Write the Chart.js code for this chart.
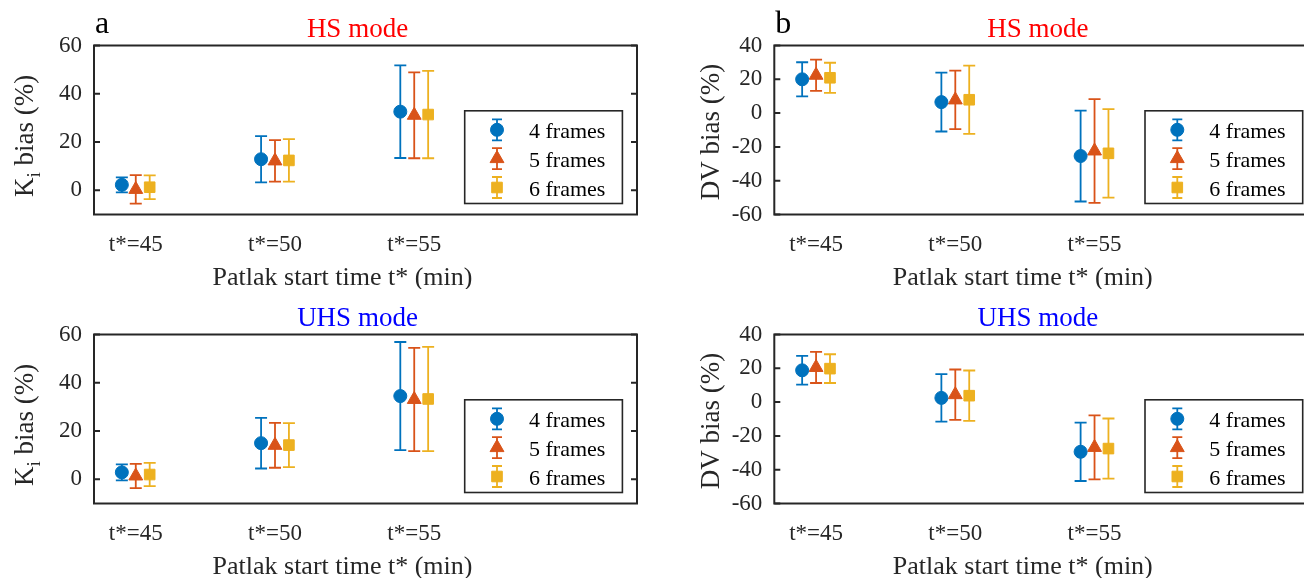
<!DOCTYPE html>
<html>
<head>
<meta charset="utf-8">
<script src="https://cdn.jsdelivr.net/npm/chart.js@4.4.0/dist/chart.umd.min.js"></script>
<style>
    html, body { margin: 0; padding: 0; background: #fff; }
    body { width: 1304px; height: 578px; overflow: hidden; position: relative; }
    .panel { position: absolute; }
    .panel canvas { display: block; }
</style>
</head>
<body>
<div class="panel" style="left:0;top:0"><canvas id="ki-hs" width="652" height="289"></canvas></div>
<div class="panel" style="left:652px;top:0"><canvas id="dv-hs" width="680" height="289"></canvas></div>
<div class="panel" style="left:0;top:289px"><canvas id="ki-uhs" width="652" height="289"></canvas></div>
<div class="panel" style="left:652px;top:289px"><canvas id="dv-uhs" width="680" height="289"></canvas></div>
<script>
const startTimes = ['t*=45', 't*=50', 't*=55'];
const frameCounts = ['4 frames', '5 frames', '6 frames'];
const kiTicks = [0, 20, 40, 60];
const dvTicks = [-60, -40, -20, 0, 20, 40];

// rows: 4 / 5 / 6 frames, columns: t* = 45 / 50 / 55
const kiHsMean = [[2.3, 12.9, 32.6], [0.4, 12.2, 31.1], [1.3, 12.4, 31.4]];
const kiHsErr  = [[3.1, 9.6, 19.2], [5.9, 8.6, 17.8], [4.9, 8.8, 18.1]];
const kiUhsMean = [[2.9, 15.0, 34.5], [1.4, 14.1, 33.1], [2.0, 14.2, 33.3]];
const kiUhsErr  = [[3.3, 10.5, 22.4], [5.0, 9.3, 21.4], [4.8, 9.1, 21.6]];
const dvHsMean = [[20.0, 6.5, -25.4], [22.4, 7.8, -22.4], [20.9, 7.9, -23.8]];
const dvHsErr  = [[10.1, 17.4, 26.9], [9.2, 17.3, 30.7], [8.9, 20.2, 26.2]];
const dvUhsMean = [[18.8, 2.5, -29.4], [20.5, 4.4, -26.8], [19.8, 3.8, -27.5]];
const dvUhsErr  = [[8.5, 14.0, 17.3], [9.2, 14.9, 18.9], [8.5, 14.9, 17.8]];

const FONT = '"Liberation Serif", "Times New Roman", serif';
const INK = '#262626';
const colors = ['#0072BD', '#D95319', '#EDB120'];
const markers = [
    { style: 'circle', r: 6.5 },
    { style: 'triangle', r: 8 },
    { style: 'rect', r: 7.5 }
];
const DODGE = 0.1;
const CAP = 6;

const errorBars = {
    id: 'errorBars',
    beforeDatasetsDraw(chart) {
        const { ctx } = chart;
        const y = chart.scales.y;
        chart.data.datasets.forEach((ds, di) => {
            const meta = chart.getDatasetMeta(di);
            ctx.save();
            ctx.strokeStyle = ds.borderColor;
            ctx.lineWidth = 1.8;
            meta.data.forEach((pt, i) => {
                const d = ds.data[i];
                const top = y.getPixelForValue(d.y + d.err);
                const bot = y.getPixelForValue(d.y - d.err);
                ctx.beginPath();
                ctx.moveTo(pt.x, top); ctx.lineTo(pt.x, bot);
                ctx.moveTo(pt.x - CAP, top); ctx.lineTo(pt.x + CAP, top);
                ctx.moveTo(pt.x - CAP, bot); ctx.lineTo(pt.x + CAP, bot);
                ctx.stroke();
            });
            ctx.restore();
        });
    }
};

// box, inward ticks, title, panel letter, axis labels and legend
const panelDecor = {
    id: 'panelDecor',
    afterDraw(chart, args, opts) {
        const { ctx, chartArea: a } = chart;
        const y = chart.scales.y;
        ctx.save();

        ctx.strokeStyle = INK;
        ctx.lineWidth = 2;
        ctx.strokeRect(a.left, a.top, a.right - a.left, a.bottom - a.top);
        ctx.beginPath();
        y.ticks.forEach(t => {
            const py = y.getPixelForValue(t.value);
            ctx.moveTo(a.left, py); ctx.lineTo(a.left + 6, py);
            ctx.moveTo(a.right, py); ctx.lineTo(a.right - 6, py);
        });
        ctx.stroke();

        const cx = (a.left + a.right) / 2;

        ctx.fillStyle = opts.titleColor;
        ctx.font = '27px ' + FONT;
        ctx.textAlign = 'center';
        ctx.textBaseline = 'alphabetic';
        ctx.fillText(opts.title, cx - 8, a.top - 9);

        if (opts.letter) {
            ctx.fillStyle = '#000';
            ctx.font = '32px ' + FONT;
            ctx.textAlign = 'left';
            ctx.fillText(opts.letter, a.left + 1, a.top - 13);
        }

        ctx.fillStyle = INK;
        ctx.font = '26px ' + FONT;
        ctx.textAlign = 'center';
        ctx.fillText('Patlak start time t* (min)', cx - 23, a.bottom + 70);

        // rotated y label, pieces may be subscripted
        const big = '27px ' + FONT, small = '19px ' + FONT;
        let total = 0;
        opts.yLabel.forEach(p => {
            ctx.font = p.sub ? small : big;
            p.w = ctx.measureText(p.text).width;
            total += p.w;
        });
        ctx.translate(a.left - opts.labelGap, (a.top + a.bottom) / 2 + opts.labelShift);
        ctx.rotate(-Math.PI / 2);
        ctx.textAlign = 'left';
        let px = -total / 2;
        opts.yLabel.forEach(p => {
            ctx.font = p.sub ? small : big;
            ctx.fillText(p.text, px, p.sub ? 7 : 0);
            px += p.w;
        });
        ctx.setTransform(1, 0, 0, 1, 0, 0);

        // legend
        const right = a.right - 14.6, left = right - 157.7;
        const bottom = a.bottom - 11, top = bottom - 92.7;
        ctx.fillStyle = '#fff';
        ctx.fillRect(left, top, right - left, bottom - top);
        ctx.strokeStyle = INK;
        ctx.lineWidth = 1.6;
        ctx.strokeRect(left, top, right - left, bottom - top);
        const rows = [19, 47.8, 76.7];
        chart.data.datasets.forEach((ds, di) => {
            const ry = top + rows[di];
            const mx = left + 32.3;
            ctx.strokeStyle = ds.borderColor;
            ctx.fillStyle = ds.backgroundColor;
            ctx.lineWidth = 1.8;
            ctx.beginPath();
            ctx.moveTo(mx, ry - 10.5); ctx.lineTo(mx, ry + 10.5);
            ctx.moveTo(mx - 5, ry - 10.5); ctx.lineTo(mx + 5, ry - 10.5);
            ctx.moveTo(mx - 5, ry + 10.5); ctx.lineTo(mx + 5, ry + 10.5);
            ctx.stroke();
            ctx.lineWidth = 1;
            Chart.helpers.drawPoint(ctx, {
                pointStyle: ds.pointStyle, radius: ds.pointRadius, rotation: 0, borderWidth: 1
            }, mx, ry);
            ctx.fillStyle = '#000';
            ctx.font = '22px ' + FONT;
            ctx.textAlign = 'left';
            ctx.textBaseline = 'alphabetic';
            ctx.fillText(ds.label, left + 64.3, ry + 8);
        });

        ctx.restore();
    }
};

function makePanel(id, means, errs, yTicks, decor) {
    const datasets = frameCounts.map((label, s) => ({
        label: label,
        data: startTimes.map((_, i) => ({
            x: i + 1 + (s - 1) * DODGE,
            y: means[s][i],
            err: errs[s][i]
        })),
        borderColor: colors[s],
        backgroundColor: colors[s],
        pointStyle: markers[s].style,
        pointRadius: markers[s].r,
        pointBorderWidth: 1,
        showLine: false
    }));

    const tickFont = { family: FONT, size: 23 };

    new Chart(document.getElementById(id), {
        type: 'scatter',
        data: { datasets: datasets },
        options: {
            responsive: false,
            animation: false,
            events: [],
            layout: { padding: { left: 0, top: 45.5, right: decor.padRight, bottom: 0 } },
            scales: {
                x: {
                    type: 'linear',
                    min: 0.7,
                    max: 4.6,
                    grid: { display: false, drawTicks: false },
                    border: { display: false },
                    afterBuildTicks: (scale) => {
                        scale.ticks = startTimes.map((_, i) => ({ value: i + 1 }));
                    },
                    afterFit: (scale) => { scale.height = 74.5; },
                    ticks: {
                        autoSkip: false,
                        maxRotation: 0,
                        padding: 17,
                        color: INK,
                        font: tickFont,
                        callback: (v) => startTimes[v - 1]
                    }
                },
                y: {
                    min: yTicks[0] === 0 ? -10 : yTicks[0],
                    max: yTicks[yTicks.length - 1],
                    grid: { display: false, drawTicks: false },
                    border: { display: false },
                    afterBuildTicks: (scale) => {
                        scale.ticks = yTicks.map(v => ({ value: v }));
                    },
                    afterFit: (scale) => { scale.width = decor.axisWidth; },
                    ticks: {
                        padding: 12,
                        color: INK,
                        font: tickFont,
                        callback: (v) => String(v)
                    }
                }
            },
            plugins: {
                legend: { display: false },
                tooltip: { enabled: false },
                panelDecor: decor
            }
        },
        plugins: [errorBars, panelDecor]
    });
}

const kiLabel = () => [{ text: 'K' }, { text: 'i', sub: true }, { text: ' bias (%)' }];
const dvLabel = () => [{ text: 'DV bias (%)' }];

makePanel('ki-hs', kiHsMean, kiHsErr, kiTicks, {
    title: 'HS mode', titleColor: '#ff0000', letter: 'a',
    yLabel: kiLabel(), labelGap: 61, labelShift: 6, axisWidth: 94, padRight: 15
});
makePanel('dv-hs', dvHsMean, dvHsErr, dvTicks, {
    title: 'HS mode', titleColor: '#ff0000', letter: 'b',
    yLabel: dvLabel(), labelGap: 55, labelShift: 2, axisWidth: 122.3, padRight: 14.7
});
makePanel('ki-uhs', kiUhsMean, kiUhsErr, kiTicks, {
    title: 'UHS mode', titleColor: '#0000ff', letter: null,
    yLabel: kiLabel(), labelGap: 61, labelShift: 6, axisWidth: 94, padRight: 15
});
makePanel('dv-uhs', dvUhsMean, dvUhsErr, dvTicks, {
    title: 'UHS mode', titleColor: '#0000ff', letter: null,
    yLabel: dvLabel(), labelGap: 55, labelShift: 2, axisWidth: 122.3, padRight: 14.7
});
</script>
</body>
</html>
